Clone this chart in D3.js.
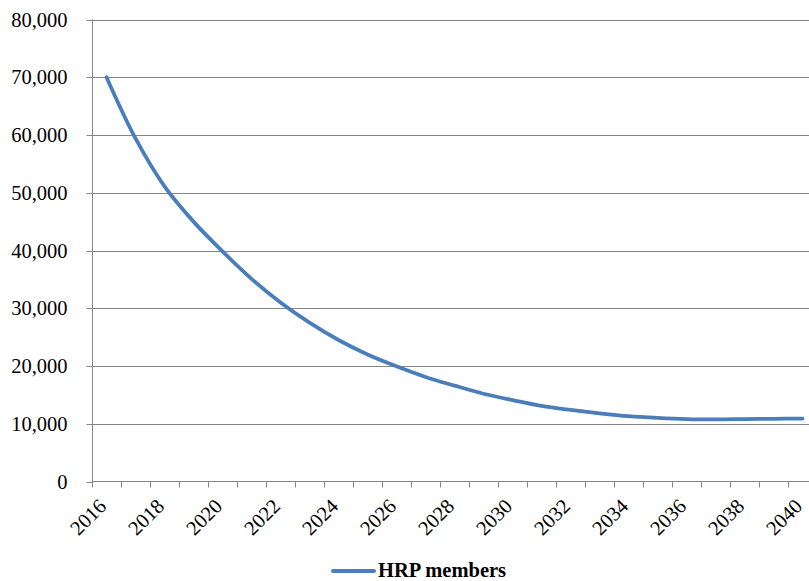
<!DOCTYPE html>
<html>
<head>
<meta charset="utf-8">
<script src="https://cdn.jsdelivr.net/npm/d3@7"></script>
<style>
  html, body { margin: 0; padding: 0; background: #fff; }
  svg { display: block; }
  text { font-family: "Liberation Serif", "Times New Roman", serif; fill: #000; }
</style>
</head>
<body>
<svg id="chart" width="809" height="581"></svg>
<script>
const years = [2016,2017,2018,2019,2020,2021,2022,2023,2024,2025,2026,2027,2028,2029,2030,2031,2032,2033,2034,2035,2036,2037,2038,2039,2040];
const hrpMembers = [70000,59400,51100,45000,39850,35100,31000,27500,24500,22000,19950,18100,16600,15200,14100,13100,12400,11800,11300,11000,10800,10750,10800,10850,10900];
const yTicks = [0,10000,20000,30000,40000,50000,60000,70000,80000];
const seriesName = "HRP members";

(function () {
const svg = d3.select("#chart");
const pL = 92, pR = 817, pT = 19.5, pB = 481.5;
const grid = "#868686";
const blue = "#4a7ebb";

const x = d3.scaleBand().domain(years).range([pL, pR]).paddingInner(0).paddingOuter(0);
const xIdx = d3.scaleLinear().domain([0, years.length]).range([pL, pR]);
const y = d3.scaleLinear().domain([0, 80000]).range([pB, pT]);

// gridlines
svg.append("g").selectAll("line").data(yTicks.filter(d => d > 0)).join("line")
  .attr("x1", pL).attr("x2", pR)
  .attr("y1", d => Math.round(y(d)) + 0.5).attr("y2", d => Math.round(y(d)) + 0.5)
  .attr("stroke", grid).attr("stroke-width", 1);

// y axis
const yAxis = svg.append("g").attr("transform", `translate(${pL + 0.5},0)`)
  .call(d3.axisLeft(y).tickValues(yTicks).tickSize(6).tickPadding(19).tickFormat(d3.format(",")));
yAxis.select(".domain").attr("stroke", grid).attr("d", `M0,${pT}V${pB + 0.5}`);
yAxis.selectAll(".tick line").attr("stroke", grid);
yAxis.selectAll(".tick").attr("transform", d => `translate(0,${Math.round(y(d)) + 0.5})`);
yAxis.selectAll("text").style("font-size", "20.5px").style("font-family", '"Liberation Serif", serif').attr("dy", "0.33em");

// x axis tick marks at category boundaries
const xAxis = svg.append("g").attr("transform", `translate(0,${pB})`)
  .call(d3.axisBottom(xIdx).tickValues(d3.range(0, years.length + 1)).tickSize(6).tickFormat(""));
xAxis.select(".domain").attr("stroke", grid).attr("d", `M${pL},0H${pR}`);
xAxis.selectAll(".tick line").attr("stroke", grid);
xAxis.selectAll(".tick").attr("transform", d => `translate(${Math.round(xIdx(d)) + 0.5},0)`);

// x labels
const xLab = svg.append("g").attr("transform", `translate(0,${pB})`)
  .call(d3.axisBottom(x).tickValues(years.filter((d, i) => i % 2 === 0)).tickSize(0));
xLab.select(".domain").remove();
xLab.selectAll("text")
  .style("font-size", "20.5px").style("font-family", '"Liberation Serif", serif')
  .attr("text-anchor", "end")
  .attr("y", 0).attr("dy", 0)
  .attr("transform", "translate(1,26) rotate(-45)");

// line
const line = d3.line()
  .x((d, i) => x(years[i]) + x.bandwidth() / 2)
  .y(d => y(d))
  .curve(d3.curveCatmullRom.alpha(0.5));
svg.append("path").datum(hrpMembers)
  .attr("d", line)
  .attr("fill", "none").attr("stroke", blue).attr("stroke-width", 3.75)
  .attr("stroke-linejoin", "round").attr("stroke-linecap", "round");

// legend
const lg = svg.append("g");
lg.append("line").attr("x1", 333).attr("x2", 374).attr("y1", 571).attr("y2", 571)
  .attr("stroke", blue).attr("stroke-width", 4).attr("stroke-linecap", "round");
lg.append("text").attr("x", 378).attr("y", 576.5)
  .style("font-size", "20.5px").style("font-weight", "bold").text(seriesName);
})();
</script>
</body>
</html>
